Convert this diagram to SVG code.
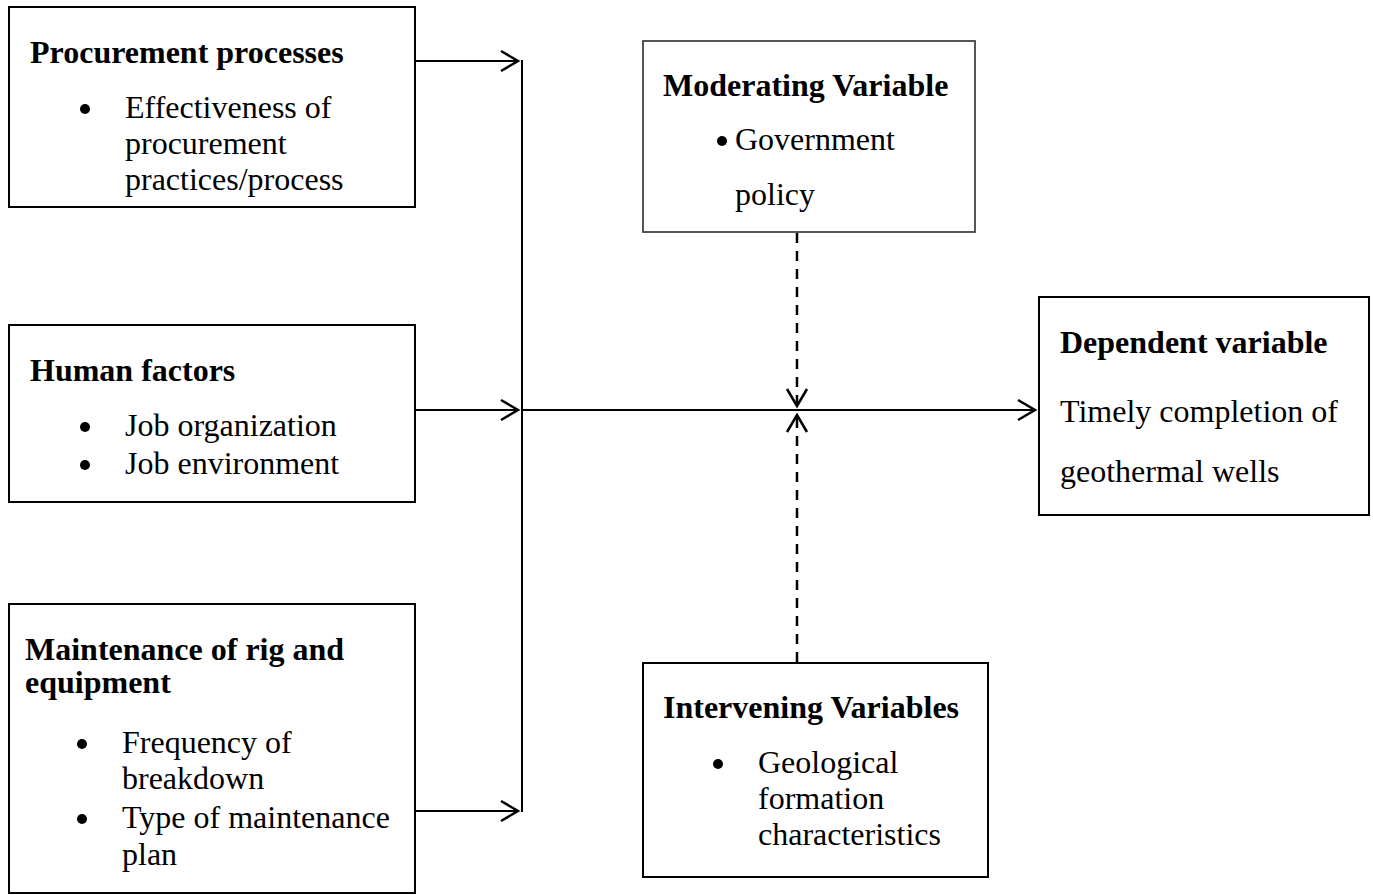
<svg xmlns="http://www.w3.org/2000/svg" width="1373" height="895" viewBox="0 0 1373 895">
<style>
.box{fill:#fff;stroke:#000;stroke-width:2}
.gbox{fill:#fff;stroke:#444;stroke-width:1.8}
.t{font-family:"Liberation Serif","Times New Roman",serif;font-size:32px;fill:#000}
.b{font-weight:bold}
.ln{stroke:#000;stroke-width:2;fill:none}
.dash{stroke:#000;stroke-width:2.5;fill:none;stroke-dasharray:10 8}
.ah{stroke:#000;stroke-width:2.5;fill:none}
</style>
<rect width="1373" height="895" fill="#fff"/>
<g id="procurement">
<rect class="box" x="9" y="7" width="406" height="200"/>
<text class="t b" x="30" y="63">Procurement processes</text>
<circle cx="85" cy="109" r="5"/>
<text class="t" x="125" y="118">Effectiveness of</text>
<text class="t" x="125" y="154">procurement</text>
<text class="t" x="125" y="190">practices/process</text>
</g>
<g id="human">
<rect class="box" x="9" y="325" width="406" height="177"/>
<text class="t b" x="30" y="381">Human factors</text>
<circle cx="85" cy="427" r="5"/>
<text class="t" x="125" y="436">Job organization</text>
<circle cx="85" cy="465" r="5"/>
<text class="t" x="125" y="474">Job environment</text>
</g>
<g id="maintenance">
<rect class="box" x="9" y="604" width="406" height="289"/>
<text class="t b" x="25" y="660">Maintenance of rig and</text>
<text class="t b" x="25" y="693">equipment</text>
<circle cx="82" cy="744" r="5"/>
<text class="t" x="122" y="753">Frequency of</text>
<text class="t" x="122" y="789">breakdown</text>
<circle cx="82" cy="819" r="5"/>
<text class="t" x="122" y="828">Type of maintenance</text>
<text class="t" x="122" y="865">plan</text>
</g>
<g id="moderating">
<rect class="gbox" x="643" y="41" width="332" height="191"/>
<text class="t b" x="663" y="96">Moderating Variable</text>
<circle cx="722" cy="141" r="5"/>
<text class="t" x="735" y="150">Government</text>
<text class="t" x="735" y="205">policy</text>
</g>
<g id="dependent">
<rect class="box" x="1039" y="297" width="330" height="218"/>
<text class="t b" x="1060" y="353">Dependent variable</text>
<text class="t" x="1060" y="422">Timely completion of</text>
<text class="t" x="1060" y="482">geothermal wells</text>
</g>
<g id="intervening">
<rect class="box" x="643" y="663" width="345" height="214"/>
<text class="t b" x="663" y="718">Intervening Variables</text>
<circle cx="718" cy="764" r="5"/>
<text class="t" x="758" y="773">Geological</text>
<text class="t" x="758" y="809">formation</text>
<text class="t" x="758" y="845">characteristics</text>
</g>
<g id="connectors">
<line class="ln" x1="522" y1="60" x2="522" y2="812"/>
<line class="ln" x1="415" y1="61" x2="518" y2="61"/>
<polyline class="ah" points="501,51 518,61 501,71"/>
<line class="ln" x1="415" y1="410" x2="518" y2="410"/>
<polyline class="ah" points="501,400 518,410 501,420"/>
<line class="ln" x1="415" y1="811" x2="518" y2="811"/>
<polyline class="ah" points="501,801 518,811 501,821"/>
<line class="ln" x1="522" y1="410" x2="1035" y2="410"/>
<polyline class="ah" points="1018,400 1035,410 1018,420"/>
<line class="dash" x1="797" y1="233" x2="797" y2="405"/>
<polyline class="ah" points="787,389 797,406 807,389"/>
<line class="dash" x1="797" y1="662" x2="797" y2="416"/>
<polyline class="ah" points="787,432 797,415 807,432"/>
</g>
</svg>
